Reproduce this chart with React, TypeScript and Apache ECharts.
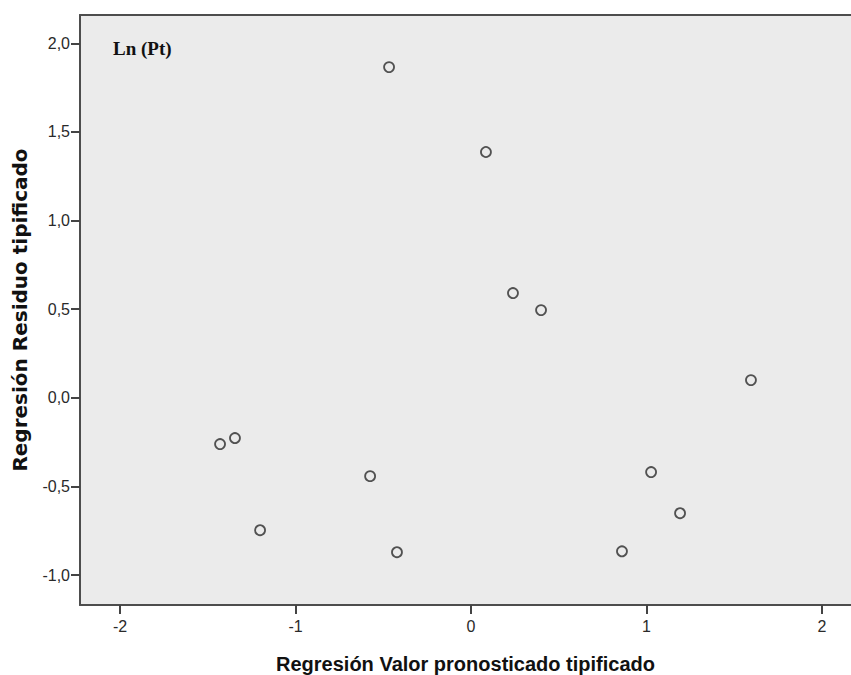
import React, { useEffect, useRef } from "react";
import * as echarts from "echarts";

const xTicks = [-2, -1, 0, 1, 2];
const yTicks = [-1, -0.5, 0, 0.5, 1, 1.5, 2];
const predicted = [-0.467, 0.085, 0.239, 0.399, 1.595, -1.43, -1.345, -0.575, -1.202, -0.422, 1.026, 1.191, 0.86];
const residual = [1.866, 1.387, 0.591, 0.495, 0.1, -0.261, -0.227, -0.442, -0.747, -0.871, -0.419, -0.651, -0.866];
const panelLabel = "Ln (Pt)";
const xTitle = "Regresión Valor pronosticado tipificado";
const yTitle = "Regresión Residuo tipificado";

const frame = { show: true, onZero: false, lineStyle: { color: "#4d4d4d", width: 2 } };

export default function App() {
  const ref = useRef<HTMLDivElement>(null);
  useEffect(() => {
    if (!ref.current) return;
    const chart = echarts.init(ref.current, null, { renderer: "svg" });
    const points = predicted.map((x, i) => [x, residual[i]]);
    chart.setOption({
      animation: false,
      backgroundColor: "#ffffff",
      grid: {
        left: 80,
        top: 15,
        right: 0,
        bottom: 70,
        outerBoundsMode: "none",
        containLabel: false,
        show: true,
        backgroundColor: "#ebebeb",
        borderWidth: 0,
      },
      xAxis: [
        {
          type: "value",
          position: "bottom",
          min: -2.228,
          max: 2.165,
          splitLine: { show: false },
          axisLine: frame,
          axisTick: { show: true, length: 9, lineStyle: { color: "#444", width: 2 }, customValues: xTicks },
          axisLabel: {
            margin: 13,
            fontSize: 16,
            color: "#2a2a2a",
            fontFamily: "Liberation Sans, Arial, sans-serif",
            customValues: xTicks,
            formatter: (v: number) => String(v),
          },
          name: xTitle,
          nameLocation: "middle",
          nameGap: 49,
          nameTextStyle: { fontSize: 20, fontWeight: "bold", color: "#111", fontFamily: "Liberation Sans, Arial, sans-serif" },
        },
        {
          type: "value",
          position: "top",
          min: -2.228,
          max: 2.165,
          splitLine: { show: false },
          axisLine: frame,
          axisTick: { show: false },
          axisLabel: { show: false },
        },
      ],
      yAxis: {
        type: "value",
        min: -1.169,
        max: 2.16,
        splitLine: { show: false },
        axisLine: frame,
        axisTick: { show: true, length: 9, lineStyle: { color: "#444", width: 2 }, customValues: yTicks },
        axisLabel: {
          margin: 10,
          fontSize: 16,
          color: "#2a2a2a",
          fontFamily: "Liberation Sans, Arial, sans-serif",
          customValues: yTicks,
          formatter: (v: number) => v.toFixed(1).replace(".", ","),
        },
        name: yTitle,
        nameLocation: "middle",
        nameGap: 50,
        nameTextStyle: { fontSize: 20, fontWeight: "bold", color: "#111", fontFamily: "DejaVu Sans, Verdana, sans-serif" },
      },
      graphic: [
        {
          type: "text",
          left: 113,
          top: 39,
          style: { text: panelLabel, font: "bold 19px 'Liberation Serif', 'Times New Roman', serif", fill: "#111" },
        },
      ],
      series: [
        {
          type: "scatter",
          xAxisIndex: 0,
          data: points,
          symbol: "circle",
          symbolSize: 10,
          itemStyle: { color: "#ebebeb", borderColor: "#2a2a2a", borderWidth: 1.8 },
        },
      ],
    });
    return () => chart.dispose();
  }, []);
  return <div ref={ref} style={{ position: "absolute", left: 0, top: 0, width: 851, height: 675 }} />;
}
